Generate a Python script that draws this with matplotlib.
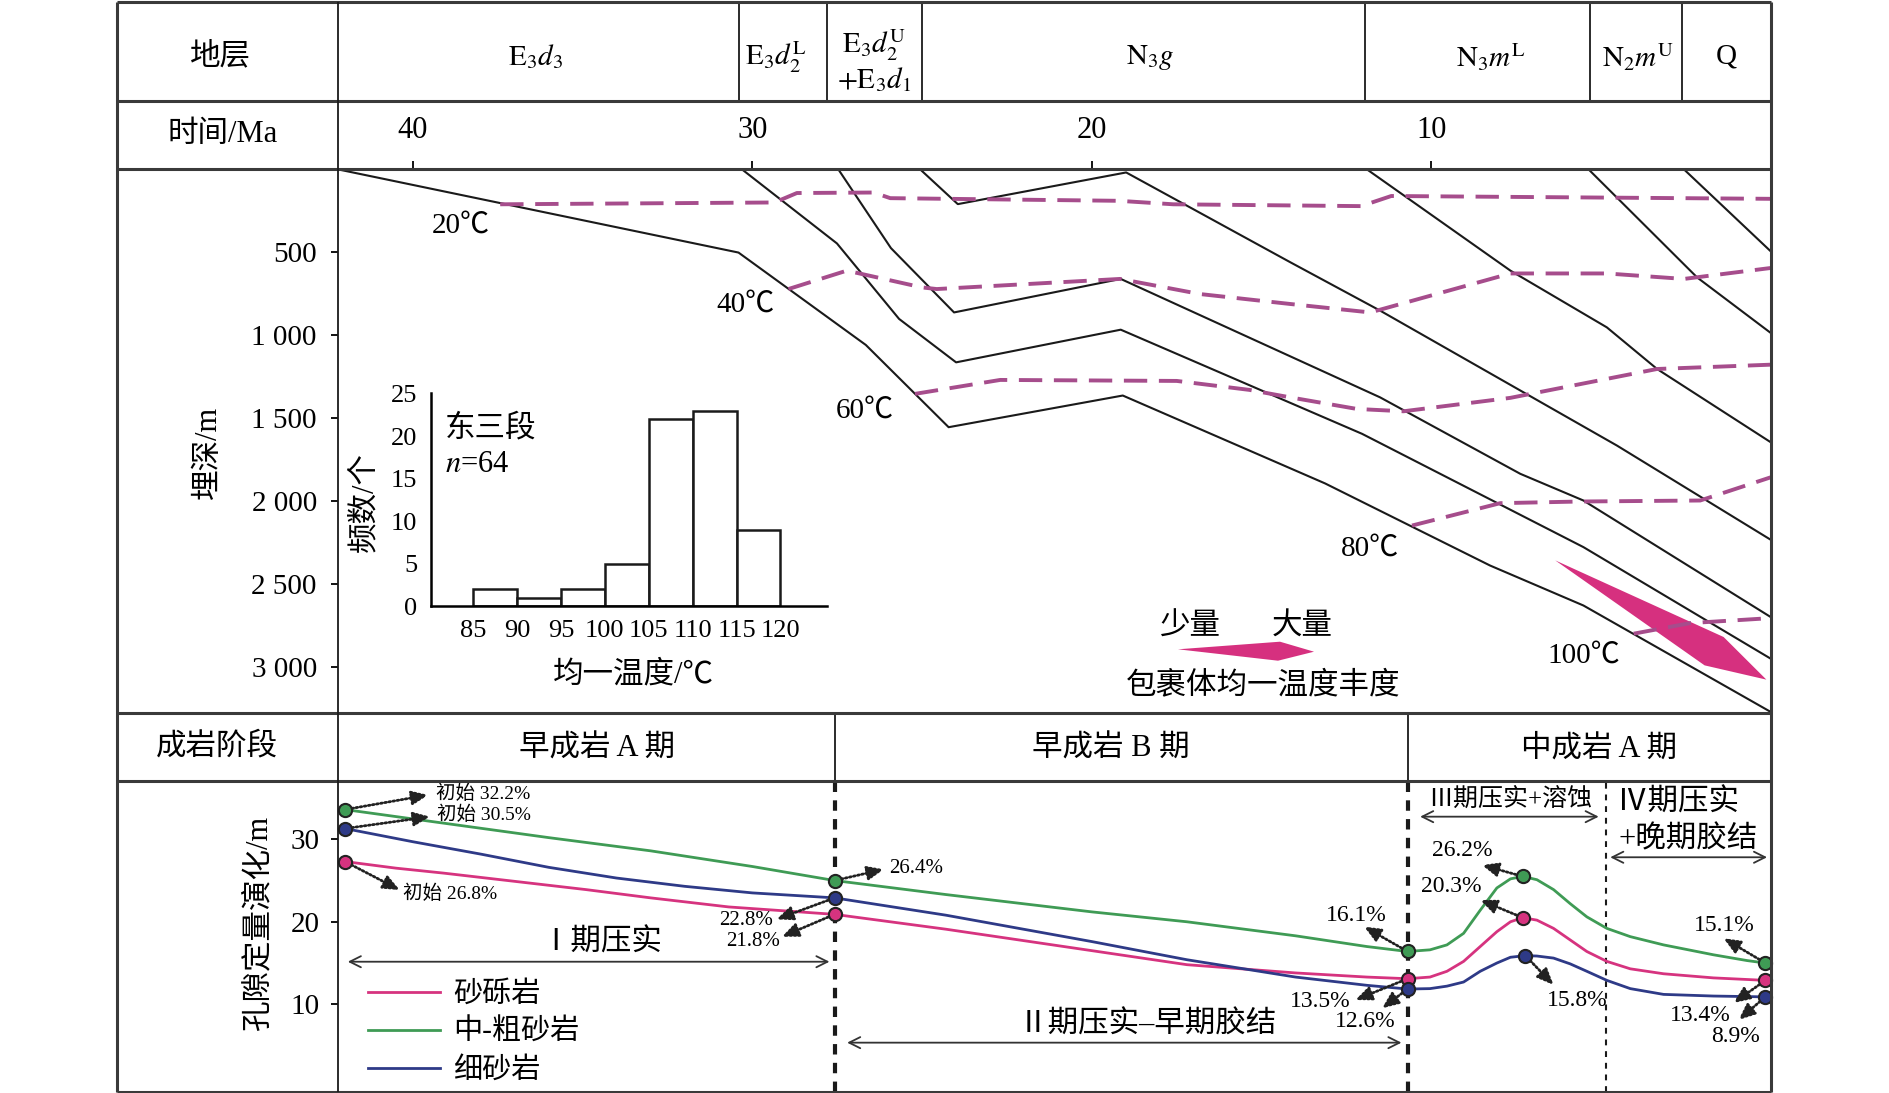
import matplotlib
matplotlib.use("Agg")
import matplotlib.pyplot as plt
from matplotlib.lines import Line2D
from matplotlib.patches import Polygon
import matplotlib.transforms as mtransforms

plt.rcParams["font.family"] = ["Liberation Serif", "Noto Sans CJK SC"]
plt.rcParams["mathtext.fontset"] = "stix"

# ---------------- data ----------------
# stratigraphy header (Ma)
strat_bounds = [42.22, 30.4, 27.8, 25.0, 11.95, 5.32, 2.63, 0.0]
strat_names = [r"$\mathrm{E}_3d_3$", r"$\mathrm{E}_3d_2^{\mathrm{L}}$",
               r"$\mathrm{E}_3d_2^{\mathrm{U}}$", r"$\mathrm{N}_3g$",
               r"$\mathrm{N}_3m^{\mathrm{L}}$", r"$\mathrm{N}_2m^{\mathrm{U}}$", "Q"]
strat_label_t = [36.38, 29.3, 26.41, 18.28, 8.25, 3.9, 1.32]
time_ticks = [40, 30, 20, 10]
depth_ticks = [500, 1000, 1500, 2000, 2500, 3000]
depth_labels = ["500", "1 000", "1 500", "2 000", "2 500", "3 000"]

# burial history curves (time Ma, depth m)
L1_t = [42.22, 30.41, 26.66, 24.22, 19.09, 13.13, 8.27, 5.52, 0.0]
L1_d = [0, 502, 1059, 1555, 1364, 1894, 2389, 2630, 3272]
L2_t = [30.31, 27.51, 25.68, 24.0, 19.15, 12.04, 5.52, 0.0]
L2_d = [0, 447, 902, 1164, 967, 1595, 2278, 2951]
L3_t = [27.47, 25.92, 24.06, 19.15, 11.51, 7.38, 5.52, 0.0]
L3_d = [0, 475, 863, 661, 1375, 1836, 1997, 2700]
L4_t = [25.06, 23.95, 18.99, 14.15, 11.51, 4.53, 0.0]
L4_d = [0, 210, 19, 561, 852, 1666, 2234]
L5_t = [11.9, 7.67, 4.83, 3.35, 0.0]
L5_d = [0, 611, 953, 1204, 1646]
L6_t = [5.37, 2.17, 0.0]
L6_d = [0, 652, 987]
L7_t = [2.56, 0.0]
L7_d = [0, 495]
burial_lines = [(L1_t, L1_d), (L2_t, L2_d), (L3_t, L3_d), (L4_t, L4_d),
                (L5_t, L5_d), (L6_t, L6_d), (L7_t, L7_d)]

# isotherms
iso20_t = [37.43, 29.35, 28.69, 26.43, 25.94, 19.2, 17.6, 12.07, 11.18, 0.0]
iso20_d = [211, 200, 143, 140, 174, 190, 211, 222, 161, 178]
iso40_t = [28.94, 27.22, 25.01, 24.57, 19.17, 16.82, 14.16, 11.8, 7.67, 4.83, 2.56, 0.0]
iso40_d = [722, 611, 712, 722, 661, 752, 812, 863, 628, 628, 661, 595]
iso60_t = [25.21, 22.7, 17.5, 15.36, 14.16, 12.19, 10.82, 7.67, 3.35, 0.0]
iso60_d = [1354, 1270, 1276, 1330, 1375, 1445, 1459, 1378, 1204, 1178]
iso80_t = [10.57, 7.97, 5.61, 2.08, 0.0]
iso80_d = [2148, 2013, 2003, 1997, 1857]
iso100_t = [4.04, 2.37, 0.0]
iso100_d = [2800, 2736, 2706]
isotherms = [(iso20_t, iso20_d), (iso40_t, iso40_d), (iso60_t, iso60_d),
             (iso80_t, iso80_d), (iso100_t, iso100_d)]
iso_labels = ["20℃", "40℃", "60℃", "80℃", "100℃"]
iso_label_t = [38.58, 30.2, 26.68, 11.8, 5.52]
iso_label_d = [340, 814, 1455, 2288, 2931]

# inclusion homogenisation temperature abundance wedge
incl_t = [6.35, 1.39, 0.13, 1.95]
incl_d = [2358, 2820, 3077, 2991]

# histogram inset
hist_bins = [85, 90, 95, 100, 105, 110, 115]
hist_counts = [2, 1, 2, 5, 22, 23, 9]
hist_xticks = [85, 90, 95, 100, 105, 110, 115, 120]
hist_yticks = [0, 5, 10, 15, 20, 25]

# diagenesis stages
stage_bounds = [27.57, 10.68]
stage_sub = 4.85
stage_names = ["早成岩 A 期", "早成岩 B 期", "中成岩 A 期"]
stage_label_t = [34.58, 19.44, 5.05]

# porosity evolution (time Ma, porosity %)
grn_t = [42.0, 39.0, 36.0, 33.0, 30.0, 27.58, 24.3, 20.0, 17.2, 14.0, 11.9, 10.7,
         10.04, 9.54, 9.05, 8.56, 8.07, 7.67, 7.31, 6.89, 6.4, 5.91, 5.42, 4.83,
         4.14, 3.16, 1.69, 0.7, 0.16]
grn_v = [33.6, 31.9, 30.2, 28.6, 26.7, 25.0, 23.3, 21.2, 20.0, 18.3, 17.0, 16.4,
         16.6, 17.2, 18.6, 21.4, 24.1, 25.2, 25.5, 25.1, 23.9, 22.2, 20.6, 19.2,
         18.2, 17.2, 16.0, 15.3, 15.0]
pnk_t = [42.0, 40.5, 39.1, 37.0, 34.9, 33.0, 30.7, 27.58, 24.3, 20.0, 17.2, 14.0,
         11.9, 10.7, 10.04, 9.54, 9.05, 8.56, 8.07, 7.67, 7.31, 6.89, 6.4, 5.91,
         5.42, 4.83, 4.14, 3.16, 1.69, 0.16]
pnk_v = [27.3, 26.5, 25.9, 24.9, 23.9, 22.9, 21.8, 20.9, 19.1, 16.5, 14.8, 13.8,
         13.3, 13.1, 13.3, 14.0, 15.2, 17.0, 18.8, 20.0, 20.5, 20.2, 19.2, 17.8,
         16.4, 15.2, 14.3, 13.7, 13.2, 12.9]
blu_t = [42.0, 40.0, 38.0, 36.0, 34.0, 32.0, 30.0, 27.58, 24.3, 20.0, 17.2, 14.0,
         11.9, 10.7, 10.04, 9.54, 9.05, 8.56, 8.07, 7.67, 7.23, 6.89, 6.4, 5.91,
         5.42, 4.83, 4.14, 3.16, 1.69, 0.16]
blu_v = [31.3, 29.7, 28.2, 26.6, 25.3, 24.3, 23.5, 22.9, 20.8, 17.6, 15.4, 13.3,
         12.3, 11.85, 11.9, 12.2, 12.7, 14.0, 15.0, 15.7, 15.9, 15.85, 15.6, 14.9,
         14.0, 12.9, 11.9, 11.2, 11.0, 10.9]
grn_mk_t = [42.0, 27.58, 10.7, 7.31, 0.16]
grn_mk_v = [33.6, 25.0, 16.4, 25.5, 15.0]
pnk_mk_t = [42.0, 27.58, 10.7, 7.31, 0.16]
pnk_mk_v = [27.3, 20.9, 13.1, 20.5, 12.9]
blu_mk_t = [42.0, 27.58, 10.7, 7.23, 0.16]
blu_mk_v = [31.3, 22.9, 11.85, 15.9, 10.9]
rock_names = ["砂砾岩", "中-粗砂岩", "细砂岩"]
rock_colors = ["#d6337f", "#3f9b55", "#2e3a87"]

# porosity annotations: label, marker (t, v), arrow tip (t, v), text (t, v), ha, size
por_notes = [
    ("初始 32.2%", (42.0, 33.6), (39.55, 35.37), (39.32, 35.5), "left", 14),
    ("初始 30.5%", (42.0, 31.3), (39.50, 32.74), (39.29, 32.95), "left", 14),
    ("初始 26.8%", (42.0, 27.3), (40.39, 23.85), (40.29, 23.45), "left", 14),
    ("22.8%", (27.58, 22.9), (29.29, 20.3), (29.39, 20.13), "right", 15),
    ("21.8%", (27.58, 20.9), (29.13, 18.19), (29.18, 17.67), "right", 15),
    ("26.4%", (27.58, 25.0), (26.13, 26.36), (25.97, 26.48), "left", 15),
    ("16.1%", (10.7, 16.4), (11.98, 19.41), (12.21, 20.8), "center", 17),
    ("13.5%", (10.7, 13.1), (12.24, 10.52), (13.26, 10.32), "center", 17),
    ("12.6%", (10.7, 11.85), (11.45, 9.52), (11.94, 7.89), "center", 17),
    ("26.2%", (7.31, 25.5), (8.51, 26.88), (9.10, 28.7), "center", 17),
    ("20.3%", (7.31, 20.5), (8.56, 22.64), (9.40, 24.25), "center", 17),
    ("15.8%", (7.23, 15.9), (6.4, 12.34), (5.71, 10.52), "center", 17),
    ("15.1%", (0.16, 15.0), (1.39, 18.0), (1.37, 19.6), "center", 17),
    ("13.4%", (0.16, 12.9), (1.10, 10.16), (2.08, 8.7), "center", 17),
    ("8.9%", (0.16, 10.9), (0.95, 8.1), (1.05, 6.07), "center", 17),
]
# stage process arrows: label, t_start, t_end, v_arrow, text (t, v)
phase_arrows = [
    ("Ⅰ期压实", 41.92, 27.73, 15.16, (34.45, 17.4)),
    ("Ⅱ期压实–早期胶结", 27.21, 10.88, 5.35, (18.37, 7.49)),
    ("Ⅲ期压实+溶蚀", 10.33, 5.07, 32.74, (7.67, 34.8)),
    ("+晚期胶结", 4.73, 0.11, 27.82, (4.49, 29.9)),
]

# ---------------- layout ----------------
W, H = 1890, 1093
fig = plt.figure(figsize=(W / 100, H / 100), dpi=100)


def fx(x):
    return x / W


def fy(y):
    return 1 - y / H


LEFT, RIGHT, TOP, BOTTOM = 117.5, 1770.8, 1.5, 1091.5
COL = 337.6
ROW1, ROW2, ROW3, ROW4 = 101, 169.3, 713.3, 780.7

ax_b = fig.add_axes([fx(COL), fy(ROW3), fx(RIGHT) - fx(COL), fy(ROW2) - fy(ROW3)])
ax_p = fig.add_axes([fx(COL), fy(BOTTOM), fx(RIGHT) - fx(COL), fy(ROW4) - fy(BOTTOM)])
ax_h = fig.add_axes([fx(431), fy(606.4), fx(827) - fx(431), fy(392.9) - fy(606.4)])

for ax in (ax_b, ax_p, ax_h):
    ax.set_facecolor("none")

# table frame
def hline(y, x0, x1, lw=2.2, color="#3a3a3a"):
    fig.add_artist(Line2D([fx(x0), fx(x1)], [fy(y), fy(y)], lw=lw, color=color,
                          transform=fig.transFigure, solid_capstyle="butt"))


def vline(x, y0, y1, lw=1.3, color="#1a1a1a"):
    fig.add_artist(Line2D([fx(x), fx(x)], [fy(y0), fy(y1)], lw=lw, color=color,
                          transform=fig.transFigure, solid_capstyle="butt"))


for yy in (TOP, ROW1, ROW2, ROW3, ROW4, BOTTOM):
    hline(yy, LEFT, RIGHT)
vline(LEFT, TOP, BOTTOM, lw=2.2, color="#3a3a3a")
vline(RIGHT, TOP, BOTTOM, lw=2.2, color="#3a3a3a")
vline(COL, TOP, BOTTOM)

# header in time coordinates
bt = mtransforms.blended_transform_factory(ax_b.transData, fig.transFigure)
for b in strat_bounds[1:-1]:
    ax_b.plot([b, b], [fy(TOP), fy(ROW1)], transform=bt, color="#1a1a1a", lw=1.3,
              clip_on=False)
for i, name in enumerate(strat_names):
    mid = strat_label_t[i]
    if i == 2:
        ax_b.text(mid, fy(45), name, transform=bt, ha="center", va="center", fontsize=21)
        ax_b.text(mid, fy(80), r"$+\mathrm{E}_3d_1$", transform=bt, ha="center",
                  va="center", fontsize=21)
    else:
        ax_b.text(mid, fy(57), name, transform=bt, ha="center", va="center", fontsize=21)

fig.text(fx(220), fy(57), "地层", ha="center", va="center", fontsize=22)
fig.text(fx(223), fy(134), "时间/Ma", ha="center", va="center", fontsize=22)
fig.text(fx(217), fy(747), "成岩阶段", ha="center", va="center", fontsize=22)
fig.text(fx(208), fy(452), "埋深/m", ha="center", va="center", fontsize=22, rotation=90)
fig.text(fx(259), fy(922), "孔隙定量演化/m", ha="center", va="center", fontsize=22,
         rotation=90)

# ---------------- burial history ----------------
ax_b.set_xlim(42.22, 0)
ax_b.set_ylim(3280, 0)
for s in ax_b.spines.values():
    s.set_visible(False)
ax_b.set_xticks(time_ticks)
ax_b.xaxis.set_ticks_position("top")
ax_b.tick_params(axis="x", top=True, bottom=False, labeltop=True, labelbottom=False,
                 direction="out", length=5.5, width=1.3, pad=12, labelsize=22)
ax_b.set_yticks(depth_ticks)
ax_b.set_yticklabels(depth_labels)
ax_b.tick_params(axis="y", direction="out", length=5, width=1.3, pad=10, labelsize=21)

for t, d in burial_lines:
    ax_b.plot(t, d, color="#1a1a1a", lw=1.5)
for t, d in isotherms:
    ax_b.plot(t, d, color="#a64d8c", lw=2.8, dashes=(6, 3))
for lab, t, d in zip(iso_labels, iso_label_t, iso_label_d):
    ax_b.text(t, d, lab, ha="center", va="center", fontsize=21)
ax_b.fill(incl_t, incl_d, color="#d6307f", lw=0)

# abundance legend
fig.add_artist(Polygon([(fx(1178), fy(649.3)), (fx(1280), fy(641.7)), (fx(1314), fy(651.7)),
                        (fx(1278), fy(660.7))], closed=True, color="#d6307f", lw=0,
                       transform=fig.transFigure))
fig.text(fx(1190), fy(627), "少量", ha="center", va="center", fontsize=22)
fig.text(fx(1302), fy(627), "大量", ha="center", va="center", fontsize=22)
fig.text(fx(1263), fy(686), "包裹体均一温度丰度", ha="center", va="center", fontsize=22)

# ---------------- histogram inset ----------------
ax_h.bar(hist_bins, hist_counts, width=5, align="edge", facecolor="white",
         edgecolor="#1a1a1a", lw=1.8)
ax_h.set_xlim(80.2, 125.3)
ax_h.set_ylim(0, 25.1)
ax_h.spines["top"].set_visible(False)
ax_h.spines["right"].set_visible(False)
ax_h.spines["left"].set_linewidth(1.8)
ax_h.spines["bottom"].set_linewidth(1.8)
ax_h.set_xticks(hist_xticks)
ax_h.set_yticks(hist_yticks)
ax_h.tick_params(length=0, labelsize=19, pad=10)
ax_h.text(0.035, 0.83, "东三段", transform=ax_h.transAxes, ha="left", va="center",
          fontsize=22)
ax_h.text(0.035, 0.665, r"$n$=64", transform=ax_h.transAxes, ha="left", va="center",
          fontsize=22)
fig.text(fx(364.7), fy(502), "频数/个", ha="center", va="center", fontsize=22, rotation=90)
fig.text(fx(633), fy(675), "均一温度/℃", ha="center", va="center", fontsize=22)

# ---------------- diagenesis stage row ----------------
st = mtransforms.blended_transform_factory(ax_p.transData, fig.transFigure)
for b in stage_bounds:
    ax_p.plot([b, b], [fy(ROW3), fy(ROW4)], transform=st, color="#1a1a1a", lw=1.3,
              clip_on=False)
for name, tl in zip(stage_names, stage_label_t):
    ax_p.text(tl, fy(749), name, transform=st, ha="center", va="center", fontsize=22)

# ---------------- porosity evolution ----------------
ax_p.set_xlim(42.22, 0)
ax_p.set_ylim(-0.57, 37.1)
for s in ax_p.spines.values():
    s.set_visible(False)
ax_p.set_xticks([])
ax_p.set_yticks([10, 20, 30])
ax_p.tick_params(axis="y", direction="out", length=5, width=1.3, pad=8, labelsize=21)

for b in stage_bounds:
    ax_p.axvline(b, color="#1a1a1a", lw=3, dashes=(2.5, 2))
ax_p.axvline(stage_sub, color="#1a1a1a", lw=1.5, dashes=(2.8, 2.8))

ax_p.plot(pnk_t, pnk_v, color=rock_colors[0], lw=2)
ax_p.plot(grn_t, grn_v, color=rock_colors[1], lw=2)
ax_p.plot(blu_t, blu_v, color=rock_colors[2], lw=2)
for mt, mv, c in ((pnk_mk_t, pnk_mk_v, rock_colors[0]), (grn_mk_t, grn_mk_v, rock_colors[1]),
                  (blu_mk_t, blu_mk_v, rock_colors[2])):
    ax_p.plot(mt, mv, "o", ms=9.5, mfc=c, mec="#222222", mew=1.5, clip_on=False, zorder=5)

for lab, pt, tip, txt, ha, size in por_notes:
    ax_p.annotate("", xy=tip, xytext=pt,
                  arrowprops=dict(arrowstyle="-|>,head_length=0.7,head_width=0.3",
                                  color="#222222", lw=2.0, linestyle=(0, (0.6, 0.9)),
                                  shrinkA=5, shrinkB=0, mutation_scale=14))
    ax_p.text(txt[0], txt[1], lab, ha=ha, va="center", fontsize=size)

for lab, t0, t1, v, txt in phase_arrows:
    ax_p.annotate("", xy=(t1, v), xytext=(t0, v),
                  arrowprops=dict(arrowstyle="<->,head_length=0.5,head_width=0.25",
                                  color="#333333", lw=1.3, shrinkA=0, shrinkB=0,
                                  mutation_scale=16))
    size = 18 if lab.startswith("Ⅲ") else 22
    ha = "left" if lab.startswith("+") else "center"
    ax_p.text(txt[0], txt[1], lab, ha=ha, va="center", fontsize=size)
ax_p.text(4.53, 34.36, "Ⅳ期压实", ha="left", va="center", fontsize=22)

handles = [Line2D([], [], color=c, lw=2) for c in rock_colors]
ax_p.legend(handles, rock_names, loc="upper left", bbox_to_anchor=(0.0209, 0.355),
            frameon=False, fontsize=21, handlelength=2.5, handletextpad=0.43,
            labelspacing=0.38, borderpad=0, borderaxespad=0)

fig.savefig("out.png", dpi=100)
